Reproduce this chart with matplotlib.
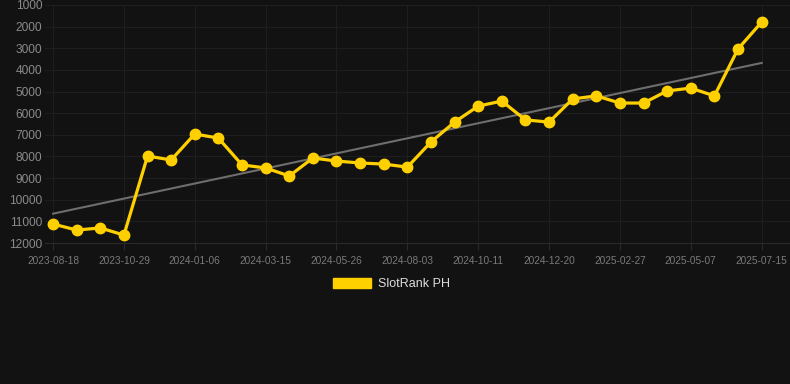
import numpy as np
import matplotlib.pyplot as plt

tick_labels = ['2023-08-18', '2023-10-29', '2024-01-06', '2024-03-15', '2024-05-26', '2024-08-03',
               '2024-10-11', '2024-12-20', '2025-02-27', '2025-05-07', '2025-07-15']
rank = [11120, 11400, 11300, 11630, 7980, 8160, 6960, 7150, 8390, 8530, 8900,
        8070, 8210, 8300, 8350, 8490, 7330, 6410, 5670, 5440, 6310, 6410,
        5340, 5200, 5530, 5530, 4970, 4840, 5200, 3030, 1790]
series_name = 'SlotRank PH'

bg = '#121212'
plt.rcParams['font.family'] = ['Liberation Sans', 'DejaVu Sans']

x = np.arange(len(rank))
fig = plt.figure(figsize=(7.9, 3.84), dpi=100, facecolor=bg)
ax = fig.add_axes([0.057, 0.367, 0.943, 0.62], facecolor=bg)

# trend line
k, b = np.polyfit(x, rank, 1)
ax.plot(x, k * x + b, color='#6e6e6e', lw=1.5, zorder=2)

ax.plot(x, rank, color='#FFD000', lw=2.3, marker='o', markersize=7.5,
        label=series_name, zorder=3, clip_on=False)

ax.set_ylim(12000, 1000)
ax.set_yticks(range(1000, 13000, 1000))
ax.set_xlim(-0.34, 31.2)
ax.set_xticks(x[::3])
ax.set_xticklabels(tick_labels)

ax.grid(color='#1e1e1e', lw=0.8)
ax.set_axisbelow(True)
for s in ['top', 'right', 'left']:
    ax.spines[s].set_visible(False)
ax.spines['bottom'].set_color('#2a2a2a')
ax.tick_params(axis='y', length=0, pad=2, labelsize=8.6, labelcolor='#8a8a8a')
ax.tick_params(axis='x', length=5, color='#2a2a2a', pad=4, labelsize=7.3, labelcolor='#7a7a7a')

leg = fig.legend(handles=[plt.Rectangle((0, 0), 1, 1, color='#FFD000')], labels=[series_name],
                 loc='center', bbox_to_anchor=(0.495, 0.26), frameon=False,
                 handlelength=3.1, handleheight=0.9, handletextpad=0.5, fontsize=9)
for t in leg.get_texts():
    t.set_color('#dddddd')

fig.savefig('out.png', dpi=100, facecolor=bg)
